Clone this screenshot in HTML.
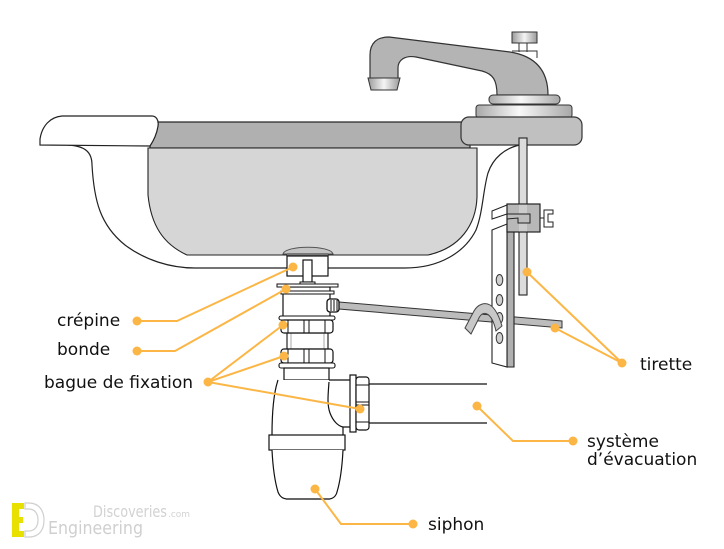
<!DOCTYPE html>
<html><head><meta charset="utf-8"><style>
html,body{margin:0;padding:0;background:#fff;width:724px;height:549px;overflow:hidden}
svg{display:block}
text{font-family:"DejaVu Sans","Liberation Sans",sans-serif;fill:#111}
</style></head><body>
<svg width="724" height="549" viewBox="0 0 724 549" xmlns="http://www.w3.org/2000/svg">
<defs>
<linearGradient id="hg" x1="0" x2="1" y1="0" y2="0">
<stop offset="0" stop-color="#9a9a9a"/><stop offset="0.5" stop-color="#f4f4f4"/><stop offset="1" stop-color="#9a9a9a"/>
</linearGradient>
<linearGradient id="hg2" x1="0" x2="1" y1="0" y2="0">
<stop offset="0" stop-color="#a8a8a8"/><stop offset="0.45" stop-color="#f8f8f8"/><stop offset="1" stop-color="#a8a8a8"/>
</linearGradient>
</defs>

<!-- faucet -->
<path d="M370,80 L370,55 C370,43 377,37 389,37 L510,52 C535,56 548,70 548,95 L497,95 C497,80 493,74 482,71 L416,57 C405,55 398,60 398,68 L398,80 Z" fill="#b4b4b4" stroke="#333" stroke-width="1.2"/>
<path d="M368,78 L400,78 L397,90 L371,90 Z" fill="url(#hg)" stroke="#333" stroke-width="1"/>
<rect x="512" y="32" width="25" height="11" fill="url(#hg)" stroke="#333" stroke-width="1"/>
<line x1="519" y1="43" x2="519" y2="52" stroke="#333" stroke-width="1"/>
<line x1="527" y1="43" x2="527" y2="52" stroke="#333" stroke-width="1"/>
<path d="M512,51 L537,51 L537,58" fill="none" stroke="#333" stroke-width="1"/>
<rect x="489" y="95" width="71" height="9" rx="4" fill="url(#hg2)" stroke="#333" stroke-width="1"/>
<rect x="476" y="105" width="96" height="13" rx="3" fill="url(#hg2)" stroke="#333" stroke-width="1"/>

<!-- sink -->
<path d="M68,145 C85,146 92,152 92,165 C94,200 100,225 125,245 C145,260 170,268 195,268 L405,268 C440,268 465,252 476,230 C483,212 483,190 488,173 C493,158 505,148 520,145" fill="#fff" stroke="#222" stroke-width="1.2"/>
<rect x="150" y="122" width="320" height="26" fill="#b0b0b0" stroke="#222" stroke-width="1.2"/>
<path d="M148,148 L477,148 L477,197 C476,225 460,248 428,255 L187,255 C163,244 151,225 148,195 Z" fill="#d6d6d6" stroke="#222" stroke-width="1.1"/>
<path d="M40,145 L40,139 C42,126 50,117 62,116 L152,116 C156,116 159,120 158,126 C157,133 154,140 150,146 Z" fill="#fff" stroke="#222" stroke-width="1.2"/>
<rect x="461" y="117" width="121" height="28" rx="8" fill="#c0c0c0" stroke="#333" stroke-width="1.2"/>

<!-- drain cap and crepine -->
<path d="M283,254 C285,245 331,245 333,254 Z" fill="#c4c4c4" stroke="#555" stroke-width="1"/>
<rect x="287" y="253" width="41" height="3" fill="#777"/>
<rect x="287" y="256" width="41" height="20" fill="#fff" stroke="#111" stroke-width="1.2"/>
<rect x="303" y="260" width="9" height="22" fill="#fff" stroke="#111" stroke-width="1.2"/>
<rect x="300" y="282" width="15" height="3" fill="#fff" stroke="#111" stroke-width="1"/>

<!-- rod (behind plate) -->
<polygon points="339,302 562,321 562,328 339,309" fill="#bcbcbc" stroke="#333" stroke-width="1"/>

<!-- bonde -->
<rect x="283" y="287" width="47" height="30" fill="#fff" stroke="#111" stroke-width="1.2"/>
<rect x="277" y="284" width="61" height="3" fill="#fff" stroke="#111" stroke-width="1"/>
<rect x="281" y="291" width="53" height="3" fill="#fff" stroke="#111" stroke-width="1"/>
<rect x="327" y="299" width="12" height="13" rx="3" fill="#fff" stroke="#111" stroke-width="1.3"/>
<line x1="331" y1="300" x2="331" y2="311" stroke="#111" stroke-width="1"/>
<line x1="334" y1="300" x2="334" y2="311" stroke="#111" stroke-width="1"/>
<line x1="337" y1="300" x2="337" y2="311" stroke="#111" stroke-width="1"/>

<!-- nuts -->
<rect x="287" y="333" width="41" height="16" fill="#fff" stroke="#111" stroke-width="1.1"/>
<line x1="291" y1="333" x2="291" y2="349" stroke="#aaa" stroke-width="1"/>
<line x1="324" y1="333" x2="324" y2="349" stroke="#aaa" stroke-width="1"/>
<rect x="279" y="316" width="56" height="4" rx="2" fill="#fff" stroke="#111" stroke-width="1.1"/>
<rect x="281" y="320" width="52" height="13" rx="3" fill="#fff" stroke="#111" stroke-width="1.2"/>
<g stroke="#111" stroke-width="1"><line x1="304" y1="320" x2="304" y2="333"/><line x1="309" y1="320" x2="309" y2="333"/><line x1="325" y1="320" x2="325" y2="333"/><line x1="288" y1="320" x2="288" y2="333"/></g>
<rect x="281" y="349" width="52" height="14" rx="3" fill="#fff" stroke="#111" stroke-width="1.2"/>
<g stroke="#111" stroke-width="1"><line x1="304" y1="349" x2="304" y2="363"/><line x1="309" y1="349" x2="309" y2="363"/><line x1="325" y1="349" x2="325" y2="363"/><line x1="288" y1="349" x2="288" y2="363"/></g>
<rect x="279" y="363" width="56" height="5" rx="2" fill="#fff" stroke="#111" stroke-width="1.1"/>
<rect x="284" y="368" width="45" height="12" fill="#fff" stroke="#111" stroke-width="1.2"/>

<!-- siphon -->
<path d="M278,380 L350,380 L350,427 L343,427 L343,435 L272,435 C272,415 273,395 278,380 Z" fill="#fff" stroke="none"/>
<path d="M278,380 C273,395 272,415 272,435" fill="none" stroke="#111" stroke-width="1.2"/>
<path d="M329,380 L350,380" fill="none" stroke="#111" stroke-width="1.2"/>
<path d="M329,382 C328,395 327,405 330,413 C333,421 338,426 343,427 L350,427" fill="none" stroke="#111" stroke-width="1.2"/>
<line x1="343" y1="427" x2="343" y2="435" stroke="#111" stroke-width="1.2"/>
<rect x="350" y="375" width="6" height="57" fill="#fff" stroke="#111" stroke-width="1.2"/>
<rect x="356" y="377" width="13" height="53" rx="3" fill="#fff" stroke="#111" stroke-width="1.2"/>
<g stroke="#111" stroke-width="1"><line x1="356" y1="385" x2="369" y2="385"/><line x1="356" y1="402" x2="369" y2="402"/><line x1="356" y1="405" x2="369" y2="405"/><line x1="356" y1="422" x2="369" y2="422"/></g>
<line x1="369" y1="384" x2="487" y2="384" stroke="#111" stroke-width="1.3"/>
<line x1="369" y1="423" x2="487" y2="423" stroke="#111" stroke-width="1.3"/>
<rect x="269" y="435" width="76" height="15" fill="#fff" stroke="#111" stroke-width="1.2"/>
<path d="M272,450 C273,470 275,482 278,492 C280,497 283,499 288,499 L328,499 C333,499 336,496 337,492 C340,482 342,470 343,450" fill="#fff" stroke="#111" stroke-width="1.2"/>
<line x1="286" y1="499" x2="330" y2="499" stroke="#666" stroke-width="2"/>

<!-- tirette rod -->
<rect x="519" y="138" width="8" height="157" fill="#dcdcdc" stroke="#222" stroke-width="1.1"/>

<!-- bracket -->
<polygon points="507,224 514,224 514,367 507,367" fill="#b0b0b0" stroke="#222" stroke-width="1.1"/>
<polygon points="492,230 507,224 507,367 492,363" fill="#fff" stroke="#222" stroke-width="1.1"/>
<g fill="#d0d0d0" stroke="#333" stroke-width="1">
<ellipse cx="499.5" cy="280" rx="3.3" ry="5.5"/>
<ellipse cx="499.5" cy="300" rx="3.3" ry="5.5"/>
<ellipse cx="499.5" cy="318" rx="3.3" ry="5.5"/>
<ellipse cx="499.5" cy="338" rx="3.3" ry="5.5"/>
</g>
<polygon points="492,211 507,205 507,214 492,219" fill="#fff" stroke="#222" stroke-width="1"/>
<rect x="507" y="204" width="33" height="28" fill="#b8b8b8" stroke="#222" stroke-width="1.1"/>
<rect x="519" y="204" width="8" height="28" fill="#cccccc"/>
<path d="M507,214 L530,214 L530,223 L518,223 L518,218 L507,219" fill="#bdbdbd" stroke="#222" stroke-width="1"/>
<rect x="507" y="204" width="33" height="28" fill="none" stroke="#222" stroke-width="1.1"/>
<line x1="540" y1="218" x2="544" y2="218" stroke="#222" stroke-width="1"/>
<path d="M544,210 L553,210 L553,214 L548,214 L548,222 L553,222 L553,227 L544,227 Z" fill="#fff" stroke="#222" stroke-width="1"/>

<!-- clip -->
<path d="M465,328 L474,311 C478,304 485,302 490,305 C495,308 499,316 502,326 L496,331 C494,322 491,316 487,314 C483,312 480,315 478,320 L471,334 Z" fill="#c8c8c8" stroke="#444" stroke-width="1"/>

<!-- leader lines -->
<g stroke="#fbb646" stroke-width="2" fill="none">
<polyline points="137,321 177,321 293,267"/>
<polyline points="137,351 175,351 286,289"/>
<polyline points="208,382 283,325"/>
<polyline points="208,382 284,356"/>
<polyline points="208,382 360,409"/>
<polyline points="622,363 527,272"/>
<polyline points="622,363 555,328"/>
<polyline points="477,406 513,441 573,441"/>
<polyline points="315,489 341,524 413,524"/>
</g>
<g fill="#fbb646">
<circle cx="137" cy="321" r="4.5"/><circle cx="293" cy="267" r="4.5"/>
<circle cx="137" cy="351" r="4.5"/><circle cx="286" cy="289" r="4.5"/>
<circle cx="208" cy="382" r="4.5"/><circle cx="283" cy="325" r="4.5"/><circle cx="284" cy="356" r="4.5"/><circle cx="360" cy="409" r="4.5"/>
<circle cx="622" cy="363" r="4.5"/><circle cx="527" cy="272" r="4.5"/><circle cx="555" cy="328" r="4.5"/>
<circle cx="477" cy="406" r="4.5"/><circle cx="573" cy="441" r="4.5"/>
<circle cx="315" cy="489" r="4.5"/><circle cx="413" cy="524" r="4.5"/>
</g>

<!-- labels -->
<g font-size="17">
<text x="57" y="326">crépine</text>
<text x="57" y="355">bonde</text>
<text x="44" y="388">bague de fixation</text>
<text x="640" y="370">tirette</text>
<text x="587" y="447">système</text>
<text x="587" y="465">d’évacuation</text>
<text x="428" y="530">siphon</text>
</g>

<!-- logo -->
<path d="M12,503 L24,503 L24,509 L19,509 L19,517 L23,517 L23,523 L19,523 L19,531 L24,531 L24,537 L12,537 Z" fill="#e8e000"/>
<path d="M25,503 L29,503 C40,503 44,512 44,520 C44,529 40,537 29,537 L25,537 L25,531 L29,531 C35,531 38,526 38,520 C38,514 35,509 29,509 L25,509 Z" fill="#fff" stroke="#cfcfcf" stroke-width="1.2"/>
<text x="93" y="517" font-size="16" textLength="74" lengthAdjust="spacingAndGlyphs" style="fill:#d2d2d2">Discoveries</text>
<text x="168" y="517" font-size="9" textLength="22" lengthAdjust="spacingAndGlyphs" style="fill:#d2d2d2">.com</text>
<text x="48" y="534" font-size="18" textLength="95" lengthAdjust="spacingAndGlyphs" style="fill:#cfcfcf">Engineering</text>
</svg>
</body></html>
